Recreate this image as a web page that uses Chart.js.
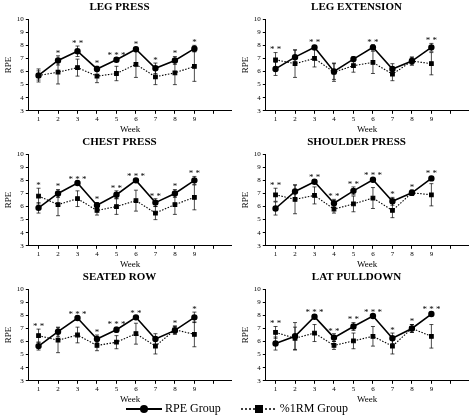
<!DOCTYPE html>
<html><head><meta charset="utf-8">
<script src="https://cdn.jsdelivr.net/npm/chart.js@4"></script>
<style>
body{margin:0;background:#fff;width:474px;height:417px;overflow:hidden;font-family:"Liberation Serif",serif}
#grid{display:grid;grid-template-columns:237px 237px;grid-template-rows:135px 135px 135px}
.c{position:relative;width:237px;height:135px}
#leg{position:absolute;top:401px;left:0;width:474px;text-align:center;font-size:12px;color:#000}
#leg span{display:inline-flex;align-items:center;margin:0 10px}
</style></head><body>
<div id="grid"></div>
<div id="leg"><span><svg width="36" height="10"><line x1="0" y1="5" x2="36" y2="5" stroke="#000" stroke-width="2"/><circle cx="18" cy="5" r="4" fill="#000"/></svg>&nbsp;RPE Group</span><span><svg width="36" height="10"><line x1="0" y1="5" x2="36" y2="5" stroke="#000" stroke-width="1.5" stroke-dasharray="2,2"/><rect x="14" y="1" width="8" height="8" fill="#000"/></svg>&nbsp;%1RM Group</span></div>
<script>
const weeks=[1,2,3,4,5,6,7,8,9];
const titles=["LEG PRESS","LEG EXTENSION","CHEST PRESS","SHOULDER PRESS","SEATED ROW","LAT PULLDOWN"];
const rpe=[
[5.7,6.85,7.55,6.2,6.9,7.7,6.25,6.85,7.75],
[6.2,7.1,7.85,6.0,6.95,7.85,6.2,6.8,7.85],
[5.9,7.0,7.8,6.1,6.9,8.0,6.3,7.0,8.0],
[5.85,7.15,7.9,6.25,7.2,8.05,6.4,7.05,8.15],
[5.65,6.75,7.8,6.2,6.9,7.85,6.2,6.85,7.85],
[5.85,6.4,7.9,6.3,7.15,7.95,6.25,7.0,8.1]];
const rpeSD=[
[0.35,0.35,0.4,0.2,0.15,0.15,0.4,0.3,0.25],
[0.5,0.55,0.15,0.6,0.2,0.2,0.4,0.3,0.3],
[0.4,0.3,0.1,0.2,0.3,0.1,0.3,0.3,0.3],
[0.5,0.5,0.1,0.3,0.3,0.1,0.3,0.2,0.15],
[0.3,0.35,0.1,0.3,0.2,0.1,0.4,0.3,0.4],
[0.5,1.05,0.1,0.3,0.3,0.1,0.4,0.3,0.15]];
const rm=[
[5.7,5.95,6.3,5.65,5.85,6.55,5.6,5.9,6.4],
[6.9,6.6,7.0,5.95,6.45,6.7,5.8,6.8,6.6],
[6.8,6.15,6.6,5.7,6.0,6.45,5.5,6.15,6.7],
[6.9,6.55,6.85,5.8,6.2,6.65,5.7,7.05,6.9],
[6.45,6.1,6.5,5.7,5.95,6.6,5.65,6.9,6.55],
[6.7,6.25,6.65,5.7,6.05,6.4,5.65,7.0,6.4]];
const rmSD=[
[0.5,0.9,0.65,0.5,0.55,1.0,0.6,0.9,1.15],
[0.55,1.05,0.65,0.7,0.5,0.85,0.5,0.3,0.85],
[0.6,0.85,0.6,0.35,0.6,0.8,0.5,0.75,0.95],
[0.5,1.1,0.65,0.3,0.6,0.8,0.55,0.2,0.85],
[0.5,0.95,0.6,0.4,0.5,0.8,0.6,0.3,0.95],
[0.45,0.85,0.65,0.3,0.6,0.75,0.6,0.3,0.9]];
const stars=[
["","*","**","*","***","*","*","*","*"],
["**","","**","","","**","","","**"],
["*","*","***","*","**","***","**","*","**"],
["**","","**","**","**","***","*","*","**"],
["**","","***","*","***","**","","*","*"],
["**","","***","**","**","***","*","*","***"]];
const yTicks=[3,4,5,6,7,8,9,10];

const errPlugin={id:'err',afterDatasetsDraw(ch,a,o){
  const i=o.idx,ctx=ch.ctx,xs=ch.scales.x,ys=ch.scales.y;
  ctx.save();ctx.strokeStyle='#000';ctx.lineWidth=0.7;
  [[rpe[i],rpeSD[i]],[rm[i],rmSD[i]]].forEach(([v,s])=>{
    weeks.forEach((w,k)=>{const x=xs.getPixelForValue(w),y1=ys.getPixelForValue(v[k]+s[k]),y2=ys.getPixelForValue(v[k]-s[k]);
      ctx.beginPath();ctx.moveTo(x,y1);ctx.lineTo(x,y2);ctx.moveTo(x-2,y1);ctx.lineTo(x+2,y1);ctx.moveTo(x-2,y2);ctx.lineTo(x+2,y2);ctx.stroke();});
  });
  ctx.fillStyle='#000';ctx.font='9px "Liberation Serif"';ctx.textAlign='center';ctx.textBaseline='bottom';
  weeks.forEach((w,k)=>{if(!stars[i][k])return;const top=Math.max(rpe[i][k]+rpeSD[i][k],rm[i][k]+rmSD[i][k]);
    ctx.fillText(stars[i][k].split('').join(' '),xs.getPixelForValue(w),ys.getPixelForValue(top)+2);});
  ctx.restore();}};

const grid=document.getElementById('grid');
titles.forEach((t,i)=>{
  const d=document.createElement('div');d.className='c';const cv=document.createElement('canvas');d.appendChild(cv);grid.appendChild(d);
  new Chart(cv,{type:'line',data:{datasets:[
    {data:weeks.map((w,k)=>({x:w,y:rpe[i][k]})),borderColor:'#000',backgroundColor:'#000',borderWidth:1.6,pointStyle:'circle',pointRadius:2.4,tension:0},
    {data:weeks.map((w,k)=>({x:w,y:rm[i][k]})),borderColor:'#000',backgroundColor:'#000',borderWidth:1.1,borderDash:[1.5,1.5],pointStyle:'rect',pointRadius:2.6,tension:0}]},
  options:{responsive:true,maintainAspectRatio:false,animation:false,events:[],
    layout:{padding:{left:2,right:0,top:0,bottom:0}},
    plugins:{legend:{display:false},tooltip:{enabled:false},err:{idx:i},
      title:{display:true,text:t,color:'#000',font:{family:'Liberation Serif',size:11,weight:'bold'},padding:{top:1,bottom:5}}},
    scales:{
      x:{type:'linear',min:0.5,max:10.9,afterBuildTicks:s=>{s.ticks=[1,2,3,4,5,6,7,8,9,10].map(v=>({value:v}));},
        ticks:{callback:v=>v<=9?v:'',color:'#000',font:{family:'Liberation Serif',size:7},padding:1,maxRotation:0},
        grid:{drawOnChartArea:false,tickLength:3,color:'#000'},border:{color:'#000'},
        title:{display:true,text:'Week',color:'#000',font:{family:'Liberation Serif',size:9},padding:{top:0,bottom:0}}},
      y:{min:3,max:10,afterBuildTicks:s=>{s.ticks=yTicks.map(v=>({value:v}));},
        ticks:{color:'#000',font:{family:'Liberation Serif',size:7},padding:2},
        grid:{drawOnChartArea:false,tickLength:3,color:'#000'},border:{color:'#000'},
        title:{display:true,text:'RPE',color:'#000',font:{family:'Liberation Serif',size:9},padding:1}}}},
  plugins:[errPlugin]});
});
</script></body></html>
